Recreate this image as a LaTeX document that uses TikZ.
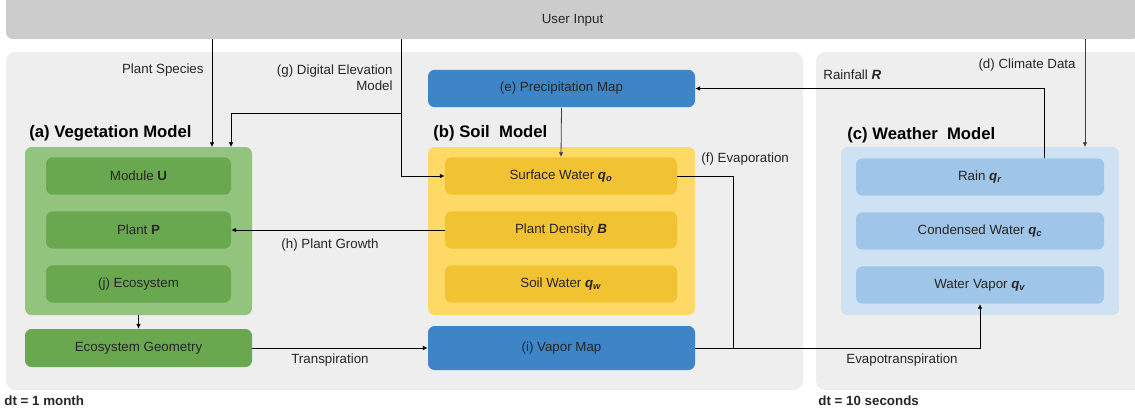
\documentclass[tikz,border=0pt]{standalone}
\usepackage{fontspec}
\setmainfont{Liberation Sans}
\usetikzlibrary{arrows.meta}
\definecolor{inputgray}{HTML}{CCCCCC}
\definecolor{panelgray}{HTML}{EEEEEE}
\definecolor{veglight}{HTML}{93C47D}
\definecolor{vegdark}{HTML}{6AA84F}
\definecolor{soillight}{HTML}{FFD966}
\definecolor{soildark}{HTML}{F1C232}
\definecolor{mapblue}{HTML}{3D85C6}
\definecolor{skylight}{HTML}{CFE2F3}
\definecolor{skydark}{HTML}{9FC5E8}
\newcommand{\bvar}[2]{\textbf{\textit{#1}\textsubscript{\textit{#2}}}}
\tikzset{%
  >={Latex[width=3.5pt,length=3.5pt]},
  % Specifications for style of nodes:
            base/.style = {rectangle, rounded corners=5pt, text centered,
                           text=black!85, inner sep=0pt,
                           font=\fontsize{10}{12}\selectfont},
        vegbox/.style = {base, fill=veglight, minimum width=170.25pt, minimum height=126pt},
       vegcell/.style = {base, fill=vegdark, minimum width=138.75pt, minimum height=28pt},
       soilbox/.style = {base, fill=soillight, minimum width=200.25pt, minimum height=126pt},
      soilcell/.style = {base, fill=soildark, minimum width=174pt, minimum height=28pt},
       skybox/.style = {base, fill=skylight, minimum width=208.5pt, minimum height=126pt},
      skycell/.style = {base, fill=skydark, minimum width=186pt, minimum height=28pt},
        mapbox/.style = {base, fill=mapblue, minimum width=200.25pt, minimum height=28pt},
        title/.style = {anchor=west, inner sep=0pt, font=\fontsize{12.5}{14}\selectfont\bfseries},
        label/.style = {inner sep=0pt, text=black!85, font=\fontsize{10}{12}\selectfont},
}

\begin{document}
\begin{tikzpicture}[x=0.75pt, y=-0.75pt, node distance=40.5pt, line width=0.6pt]
  \clip (0,0) rectangle (1135,412);

  % Background panels
  \fill[panelgray, rounded corners=7pt] (6,52) rectangle (803,390);
  \fill[panelgray, rounded corners=7pt] (816,52) rectangle (1160,390);
  \node (input) [base, fill=inputgray, minimum width=849.75pt, minimum height=36pt] at (572.5,15) {};
  \node [label] at (572.5,20.5) {User Input};

  % Specification of nodes (position, etc.)
  \node (vegmodel)   [vegbox] at (138.5,231) {};
  \node (module)     [vegcell] at (138.5,176) {Module \textbf{U}};
  \node (plant)      [vegcell, below of=module] {Plant \textbf{P}};
  \node (ecosystem)  [vegcell, below of=plant] {(j) Ecosystem};
  \node (ecogeo)     [vegcell, minimum width=170.25pt, minimum height=28.5pt] at (138.5,348) {Ecosystem Geometry};

  \node (soilmodel)  [soilbox] at (561.5,231) {};
  \node (surface)    [soilcell] at (561,176) {Surface Water \bvar{q}{o}};
  \node (density)    [soilcell, below of=surface] {Plant Density \textbf{\textit{B}}};
  \node (soilwater)  [soilcell, below of=density] {Soil Water \bvar{q}{w}};
  \node (precip)     [mapbox] at (561.5,88.5) {(e) Precipitation Map};
  \node (vapor)      [mapbox, minimum height=33pt] at (561.5,348) {(i) Vapor Map};

  \node (weather)    [skybox] at (980,231) {};
  \node (rain)       [skycell] at (980,177) {Rain \bvar{q}{r}};
  \node (condensed)  [skycell, below of=rain] {Condensed Water \bvar{q}{c}};
  \node (watervapor) [skycell, below of=condensed] {Water Vapor \bvar{q}{v}};

  \node [title] at (29,133) {(a) Vegetation Model};
  \node [title] at (433,133) {(b) Soil~~Model};
  \node [title] at (847,135) {(c) Weather~~Model};

  \node [label, anchor=west] at (4,401) {\textbf{dt = 1 month}};
  \node [label, anchor=west] at (818,401) {\textbf{dt = 10 seconds}};

  % Connectors
  \coordinate (species) at (212,147);
  \coordinate (dem) at (401,39);
  \coordinate (demsplit) at (401,113);
  \coordinate (vegdem) at (231,147);
  \coordinate (climate) at (1085,147);
  \coordinate (rainout) at (1044,158);
  \coordinate (evapjoin) at (733,348);

  \draw[->] (input.south -| species) -- (species);
  \node [label, anchor=east] at (204,70) {Plant Species};
  \draw[->] (dem) |- (surface.west);
  \draw[->] (demsplit) -| (vegdem);
  \node [label, anchor=east, align=right] at (393,78) {(g) Digital Elevation\\Model};
  \draw[->, black!75] (input.south -| climate) -- (climate);
  \node [label, anchor=east] at (1076,65) {(d) Climate Data};
  \draw[->] (rainout) |- (precip.east);
  \node [label, anchor=west] at (823,75) {Rainfall \textbf{\textit{R}}};
  \draw[->, black!75] (precip.south) -- (surface.north);
  \draw (surface.east) -| (evapjoin);
  \node [label, anchor=west] at (701,159) {(f) Evaporation};
  \draw[->] (density.west) -- (density.west -| plant.east);
  \node [label] at (330,245) {(h) Plant Growth};
  \draw[->] (vegmodel.south) -- (ecogeo.north);
  \draw[->] (ecogeo.east) -- (vapor.west);
  \node [label] at (330,360) {Transpiration};
  \draw[->] (vapor.east) -| (watervapor.south);
  \node [label] at (902,360) {Evapotranspiration};

\end{tikzpicture}
\end{document}
